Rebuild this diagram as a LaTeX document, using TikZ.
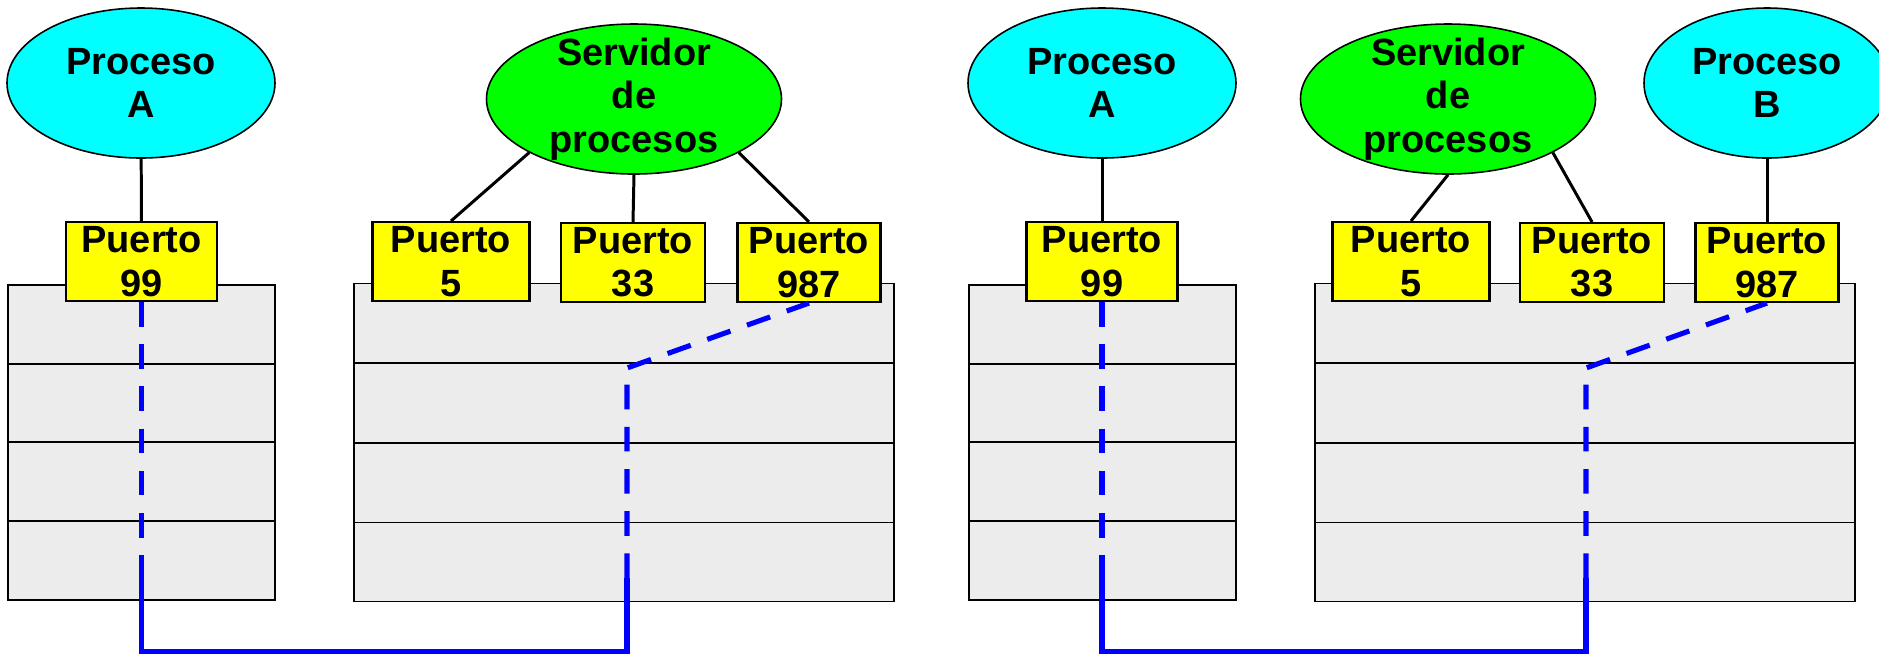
\documentclass[tikz,border=0pt]{standalone}
\usepackage{fontspec}
\setmainfont{Liberation Sans}
\usetikzlibrary{shapes.geometric}
\definecolor{aqua}{RGB}{0,255,255}
\definecolor{lima}{RGB}{0,255,0}
\definecolor{amarillo}{RGB}{255,255,0}
\definecolor{azul}{RGB}{0,0,255}
\definecolor{gris}{RGB}{236,236,236}

\begin{document}
\begin{tikzpicture}[font=\fontsize{10.8}{12.3}\selectfont\bfseries]

\tikzset{
  proc/.style={ellipse, draw, line width=0.45pt, fill=aqua, inner sep=0pt, align=center, minimum width=2.68cm, minimum height=1.5cm},
  serv/.style={ellipse, draw, line width=0.45pt, fill=lima, inner sep=0pt, minimum width=2.95cm, minimum height=1.5cm},
  port/.style={draw, line width=0.6pt, fill=amarillo, inner sep=0pt, align=center, minimum height=0.79cm},
  fila/.style={draw, line width=0.55pt, fill=gris, inner sep=0pt, minimum height=0.79cm},
  enlace/.style={line width=0.85pt},
  ruta/.style={azul, line width=1.45pt},
  rutadash/.style={ruta, dash pattern=on 7pt off 5pt},
}

\useasboundingbox (0,0) rectangle (18.79,-6.54);

% memoria de los procesos
\node[fila,minimum width=2.67cm,name=cl1] at (1.415,-3.244) {};
\node[fila,minimum width=2.67cm,name=cl2] at (1.415,-4.031) {};
\node[fila,minimum width=2.67cm,name=cl3] at (1.415,-4.819) {};
\node[fila,minimum width=2.67cm,name=cl4] at (1.415,-5.606) {};
\node[fila,minimum width=5.40cm,name=sl1] at (6.24,-3.23) {};
\node[fila,minimum width=5.40cm,name=sl2] at (6.24,-4.03) {};
\node[fila,minimum width=5.40cm,name=sl3] at (6.24,-4.83) {};
\node[fila,minimum width=5.40cm,name=sl4] at (6.24,-5.62) {};
\node[fila,minimum width=2.67cm,name=cr1] at (11.025,-3.244) {};
\node[fila,minimum width=2.67cm,name=cr2] at (11.025,-4.031) {};
\node[fila,minimum width=2.67cm,name=cr3] at (11.025,-4.819) {};
\node[fila,minimum width=2.67cm,name=cr4] at (11.025,-5.606) {};
\node[fila,minimum width=5.40cm,name=sr1] at (15.85,-3.23) {};
\node[fila,minimum width=5.40cm,name=sr2] at (15.85,-4.03) {};
\node[fila,minimum width=5.40cm,name=sr3] at (15.85,-4.83) {};
\node[fila,minimum width=5.40cm,name=sr4] at (15.85,-5.62) {};

% procesos
\node[proc,name=procAl] at (1.41,-0.83) {Proceso\\A};
\node[serv,name=srvl,label={[align=center]center:Servidor\\de\\procesos}] at (6.34,-0.99) {};
\node[proc,name=procAr] at (11.02,-0.83) {Proceso\\A};
\node[serv,name=srvr,label={[align=center]center:Servidor\\de\\procesos}] at (14.48,-0.99) {};
\node[proc,minimum width=2.46cm,name=procBr] at (17.67,-0.83) {Proceso\\B};

% puertos
\node[port,minimum width=1.51cm,name=p99l] at (1.415,-2.615) {Puerto\\99};
\node[port,minimum width=1.57cm,name=p5l] at (4.51,-2.615) {Puerto\\5};
\node[port,minimum width=1.44cm,name=p33l] at (6.33,-2.625) {Puerto\\33};
\node[port,minimum width=1.43cm,name=p987l] at (8.09,-2.625) {Puerto\\987};
\node[port,minimum width=1.51cm,name=p99r] at (11.02,-2.615) {Puerto\\99};
\node[port,minimum width=1.57cm,name=p5r] at (14.11,-2.615) {Puerto\\5};
\node[port,minimum width=1.44cm,name=p33r] at (15.92,-2.625) {Puerto\\33};
\node[port,minimum width=1.43cm,name=p987r] at (17.67,-2.625) {Puerto\\987};

\draw[enlace] (procAl) -- (p99l);
\draw[enlace] (srvl.south west) -- (p5l.north);
\draw[enlace] (srvl.south) -- (p33l.north);
\draw[enlace] (srvl.south east) -- (p987l.north);
\draw[enlace] (procAr) -- (p99r);
\draw[enlace] (srvr.south) -- (p5r.north);
\draw[enlace] (srvr.south east) -- (p33r.north);
\draw[enlace] (procBr) -- (p987r);

% conexiones
\coordinate (bl1) at (1.415,-5.78);
\coordinate (bl2) at (1.415,-6.515);
\coordinate (bl3) at (6.27,-6.515);
\coordinate (bl4) at (6.27,-5.78);
\coordinate (bl5) at (6.27,-3.68);
\draw[rutadash] (p99l.south) -- (bl1);
\draw[ruta] (bl1) -- (bl2) -- (bl3) -- (bl4);
\draw[rutadash] (bl4) -- (bl5) -- (p987l.south);

\coordinate (br1) at (11.02,-5.78);
\coordinate (br2) at (11.02,-6.515);
\coordinate (br3) at (15.86,-6.515);
\coordinate (br4) at (15.86,-5.78);
\coordinate (br5) at (15.86,-3.68);
\draw[rutadash] (p99r.south) -- (br1);
\draw[ruta] (br1) -- (br2) -- (br3) -- (br4);
\draw[rutadash] (br4) -- (br5) -- (p987r.south);

\end{tikzpicture}
\end{document}
